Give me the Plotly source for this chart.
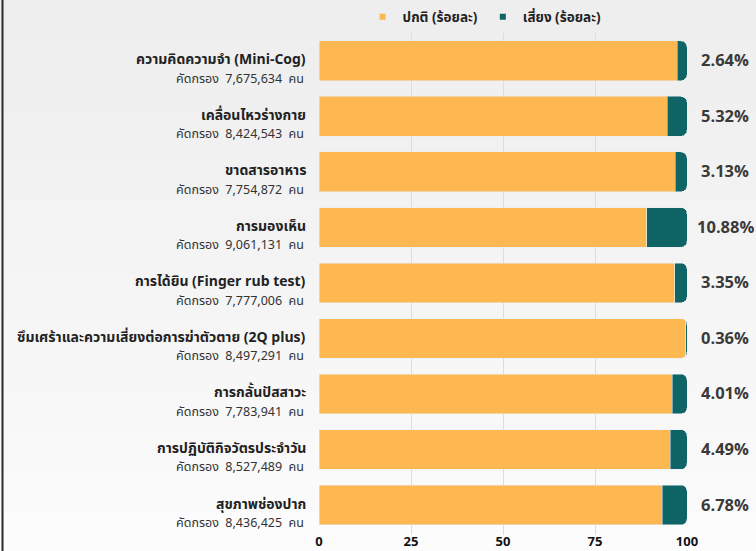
import plotly.graph_objects as go

# Screening topics (top to bottom) and number of people screened
topics = [
    "ความคิดความจำ (Mini-Cog)",
    "เคลื่อนไหวร่างกาย",
    "ขาดสารอาหาร",
    "การมองเห็น",
    "การได้ยิน (Finger rub test)",
    "ซึมเศร้าและความเสี่ยงต่อการฆ่าตัวตาย (2Q plus)",
    "การกลั้นปัสสาวะ",
    "การปฏิบัติกิจวัตรประจำวัน",
    "สุขภาพช่องปาก",
]
screened = [7675634, 8424543, 7754872, 9061131, 7777006, 8497291, 7783941, 8527489, 8436425]
normal_pct = [97.36, 94.68, 96.87, 89.12, 96.65, 99.64, 95.99, 95.51, 93.22]
risk_pct = [2.64, 5.32, 3.13, 10.88, 3.35, 0.36, 4.01, 4.49, 6.78]
x_ticks = [0, 25, 50, 75, 100]

ORANGE = "#FDB851"
TEAL = "#0F6465"
FONT = "Noto Sans Thai, Noto Sans, sans-serif"

W, H = 756, 551
ML, MR, MT, MB = 319, 69, 33, 16
PW, PH = W - ML - MR, H - MT - MB

fig = go.Figure()
fig.add_trace(go.Bar(y=topics, x=normal_pct, orientation="h", marker_color=ORANGE,
                     showlegend=False, hoverinfo="x"))
fig.add_trace(go.Bar(y=topics, x=risk_pct, orientation="h", marker_color=TEAL,
                     showlegend=False, hoverinfo="x"))

# small square legend markers
for name, col in [("ปกติ (ร้อยละ)", ORANGE), ("เสี่ยง (ร้อยละ)", TEAL)]:
    fig.add_trace(go.Scatter(x=[None], y=[None], mode="markers", name=f"<b>{name}</b>",
                             marker=dict(symbol="square", size=6, color=col)))

annotations = []
for t, n, r in zip(topics, screened, risk_pct):
    annotations.append(dict(xref="paper", x=0, xshift=-11, y=t, yref="y", yshift=1,
                            xanchor="right", yanchor="middle", showarrow=False,
                            text=f"<b>{t}</b>", font=dict(size=14, color="#222222", family=FONT)))
    annotations.append(dict(xref="paper", x=0, xshift=-13, y=t, yref="y", yshift=-18.5,
                            xanchor="right", yanchor="middle", showarrow=False,
                            text=f"คัดกรอง  {n:,}  คน", font=dict(size=12.5, color="#333333", family=FONT)))
    annotations.append(dict(xref="x", x=100, xshift=38, y=t, yref="y",
                            xanchor="center", yanchor="middle", showarrow=False,
                            text=f"<b>{r:.2f}%</b>", font=dict(size=16.5, color="#3a3a3a", family=FONT)))

# soft vertical background gradient
shapes = []
bands = 14
x0p, x1p = -ML / PW, 1 + MR / PW
for i in range(bands):
    y_top = 1 + MT / PH - i * (H / bands) / PH
    y_bot = y_top - (H / bands) / PH - 0.002
    v = int(238 + (252 - 238) * i / (bands - 1))
    shapes.append(dict(type="rect", xref="paper", yref="paper", x0=x0p, x1=x1p,
                       y0=y_bot, y1=y_top, fillcolor=f"rgb({v},{v},{v})",
                       line=dict(width=0), layer="below"))
# dark frame edge on the left
shapes.append(dict(type="line", xref="paper", yref="paper", x0=(2.5 - ML) / PW, x1=(2.5 - ML) / PW,
                   y0=-MB / PH, y1=1 + MT / PH, line=dict(color="#2a2a2a", width=2)))

fig.update_layout(
    width=W, height=H,
    margin=dict(l=ML, r=MR, t=MT, b=MB, autoexpand=False),
    barmode="stack", bargap=0.285, barcornerradius=6,
    paper_bgcolor="#f5f5f5", plot_bgcolor="rgba(0,0,0,0)",
    font=dict(family=FONT, color="#222222"),
    legend=dict(orientation="h", x=0.45, xanchor="center", y=1 + 16 / PH, yanchor="middle",
                traceorder="normal",
                font=dict(size=13.5, color="#222222", family=FONT), itemwidth=30,
                bgcolor="rgba(0,0,0,0)", tracegroupgap=0),
    annotations=annotations, shapes=shapes,
    xaxis=dict(range=[0, 100], tickvals=x_ticks, ticktext=[f"<b>{v}</b>" for v in x_ticks],
               showgrid=True, gridcolor="#dddddd", gridwidth=1, zeroline=False,
               tickfont=dict(size=13, color="#111111", family=FONT), fixedrange=True,
               automargin=False, showline=False, ticklabelstandoff=-3),
    yaxis=dict(categoryorder="array", categoryarray=topics[::-1], showticklabels=False,
               showgrid=False, zeroline=False, automargin=False, fixedrange=True),
)

fig.write_html("out.html")
